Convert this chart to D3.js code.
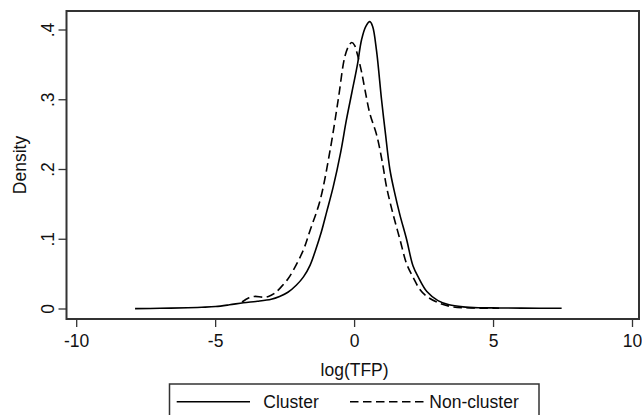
<!DOCTYPE html>
<html>
<head>
<meta charset="utf-8">
<script src="https://cdn.jsdelivr.net/npm/d3@7"></script>
<style>
html,body{margin:0;padding:0;background:#fff;}
svg{display:block;font-family:"Liberation Sans",Arial,Helvetica,sans-serif;}
</style>
</head>
<body>
<svg id="chart" width="642" height="415"></svg>
<script>
// ---- data ----
const clusterX = [-7.9,-7,-6,-5.5,-5,-4.5,-4,-3.5,-3,-2.7,-2.4,-2.1,-1.84,-1.6,-1.4,-1.2,-1.0,-0.77,-0.5,-0.3,-0.1,0.1,0.25,0.4,0.55,0.65,0.79,0.97,1.1,1.27,1.45,1.63,1.87,2.1,2.3,2.6,3.0,3.4,3.9,4.5,5.2,6,7.45];
const clusterY = [0.0005,0.001,0.0018,0.0025,0.0035,0.006,0.009,0.011,0.014,0.018,0.024,0.034,0.046,0.063,0.085,0.11,0.14,0.175,0.225,0.27,0.31,0.35,0.386,0.405,0.412,0.405,0.37,0.30,0.255,0.20,0.165,0.135,0.10,0.062,0.045,0.025,0.012,0.006,0.003,0.0018,0.0015,0.0012,0.001];
const nonClusterX = [-4.05,-3.8,-3.6,-3.3,-3.1,-2.9,-2.68,-2.4,-2.2,-1.84,-1.6,-1.24,-0.88,-0.59,-0.35,-0.2,-0.1,0.0,0.1,0.25,0.37,0.55,0.79,1.0,1.15,1.39,1.63,1.87,2.11,2.35,2.6,3.07,3.55,4.2,5.2];
const nonClusterY = [0.010,0.016,0.018,0.017,0.018,0.022,0.030,0.043,0.056,0.085,0.113,0.156,0.228,0.30,0.362,0.378,0.382,0.378,0.365,0.34,0.315,0.28,0.25,0.21,0.175,0.135,0.10,0.065,0.045,0.028,0.018,0.008,0.003,0.0015,0.001];
const xTicks = [-10,-5,0,5,10];
const xTickLabels = ["-10","-5","0","5","10"];
const yTicks = [0,0.1,0.2,0.3,0.4];
const yTickLabels = ["0",".1",".2",".3",".4"];
const seriesNames = ["Cluster","Non-cluster"];

// ---- drawing ----
const svg = d3.select("#chart");
const frame = {left:66.5, right:639, top:11, bottom:319};
const x = d3.scaleLinear().domain([-10,10]).range([76.7,632.5]);
const y = d3.scaleLinear().domain([0,0.4]).range([309,30]);
const fontSize = 17.5;
const dash = "8.5,4.5";

svg.append("rect").attr("x",0).attr("y",0).attr("width",642).attr("height",415).attr("fill","#fff");

// frame
svg.append("rect")
  .attr("x",frame.left).attr("y",frame.top)
  .attr("width",frame.right-frame.left).attr("height",frame.bottom-frame.top)
  .attr("fill","none").attr("stroke","#333").attr("stroke-width",2);

// x axis ticks
const xg = svg.append("g");
xg.selectAll("line").data(xTicks).join("line")
  .attr("x1",d=>x(d)).attr("x2",d=>x(d))
  .attr("y1",frame.bottom).attr("y2",frame.bottom+8)
  .attr("stroke","#333").attr("stroke-width",1.3);
xg.selectAll("text").data(xTicks).join("text")
  .attr("x",d=>x(d)).attr("y",347)
  .attr("text-anchor","middle").attr("font-size",fontSize).attr("fill","#111")
  .text((d,i)=>xTickLabels[i]);

// y axis ticks
const yg = svg.append("g");
yg.selectAll("line").data(yTicks).join("line")
  .attr("x1",frame.left).attr("x2",frame.left-8)
  .attr("y1",d=>y(d)).attr("y2",d=>y(d))
  .attr("stroke","#333").attr("stroke-width",1.3);
yg.selectAll("text").data(yTicks).join("text")
  .attr("transform",d=>`translate(53.5,${y(d)}) rotate(-90)`)
  .attr("text-anchor","middle").attr("font-size",fontSize).attr("fill","#111")
  .text((d,i)=>yTickLabels[i]);

// axis titles
svg.append("text").attr("x",354.6).attr("y",376)
  .attr("text-anchor","middle").attr("font-size",fontSize).attr("fill","#111")
  .text("log(TFP)");
svg.append("text").attr("transform","translate(26,165) rotate(-90)")
  .attr("text-anchor","middle").attr("font-size",fontSize).attr("fill","#111")
  .text("Density");

// curves
const line = d3.line().x(d=>x(d[0])).y(d=>y(d[1])).curve(d3.curveCatmullRom.alpha(0.5));
const clusterData = clusterX.map((v,i)=>[v,clusterY[i]]);
const nonClusterData = nonClusterX.map((v,i)=>[v,nonClusterY[i]]);
svg.append("path").datum(clusterData).attr("d",line)
  .attr("fill","none").attr("stroke","#000").attr("stroke-width",1.6);
svg.append("path").datum(nonClusterData).attr("d",line)
  .attr("fill","none").attr("stroke","#000").attr("stroke-width",1.6)
  .attr("stroke-dasharray",dash);

// legend
const lg = svg.append("g");
lg.append("rect").attr("x",169.5).attr("y",384).attr("width",369.5).attr("height",40)
  .attr("fill","#fff").attr("stroke","#333").attr("stroke-width",1.5);
lg.append("line").attr("x1",176.7).attr("x2",250).attr("y1",401.7).attr("y2",401.7)
  .attr("stroke","#000").attr("stroke-width",1.6);
lg.append("text").attr("x",263.3).attr("y",408).attr("font-size",fontSize).attr("fill","#111").text(seriesNames[0]);
lg.append("line").attr("x1",350).attr("x2",425).attr("y1",401.7).attr("y2",401.7)
  .attr("stroke","#000").attr("stroke-width",1.6).attr("stroke-dasharray",dash);
lg.append("text").attr("x",429.3).attr("y",408).attr("font-size",fontSize).attr("fill","#111").text(seriesNames[1]);
</script>
</body>
</html>
